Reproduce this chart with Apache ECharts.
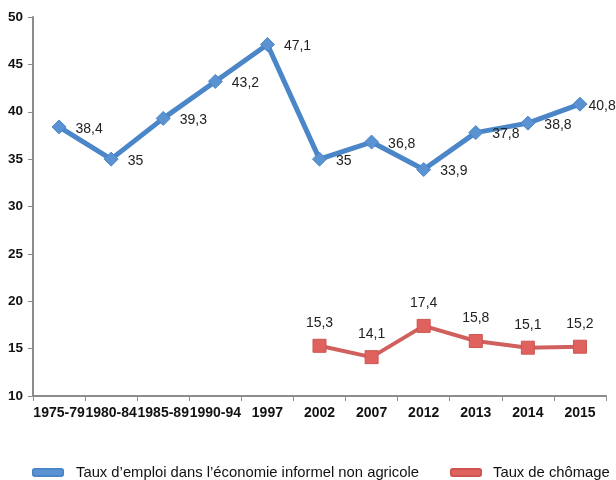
<!DOCTYPE html>
<html>
<head>
<meta charset="utf-8">
<script src="https://cdn.jsdelivr.net/npm/echarts@6/dist/echarts.min.js"></script>
<style>html,body{margin:0;padding:0;background:#fff;}#c{width:616px;height:480px;}</style>
</head>
<body>
<div id="c"></div>
<script>
const categories = ['1975-79','1980-84','1985-89','1990-94','1997','2002','2007','2012','2013','2014','2015'];
const emploiInformel = [38.4, 35, 39.3, 43.2, 47.1, 35, 36.8, 33.9, 37.8, 38.8, 40.8];
const chomage = [null, null, null, null, null, 15.3, 14.1, 17.4, 15.8, 15.1, 15.2];
const seriesNames = ['Taux d\u2019emploi dans l\u2019\u00e9conomie informel non agricole', 'Taux de ch\u00f4mage'];

const fmt = p => String(p.value).replace('.', ',');
const font = 'Liberation Sans, Arial, Helvetica, sans-serif';
const lastIdx = emploiInformel.length - 1;
const blueData = emploiInformel.map((v, i) => i === lastIdx ? {value: v, label: {distance: 1}} : v);
const chart = echarts.init(document.getElementById('c'), null, {renderer: 'canvas'});
const legendText = {fontSize: 14.8, color: '#111', fontFamily: font, padding: [0, 0, 0, 8]};
chart.setOption({
  animation: false,
  textStyle: {fontFamily: font},
  grid: {left: 33, right: 10, top: 17, bottom: 84, containLabel: false},
  legend: [
    {data: [seriesNames[0]], left: 32, top: 465, padding: 0, itemWidth: 30, itemHeight: 7, icon: 'roundRect',
     textStyle: legendText},
    {data: [seriesNames[1]], left: 450, top: 465, padding: 0, itemWidth: 30, itemHeight: 7, icon: 'roundRect',
     textStyle: {fontSize: 14.8, color: '#111', fontFamily: font, padding: [0, 0, 0, 7]}}
  ],
  xAxis: {
    type: 'category', data: categories,
    axisLine: {lineStyle: {color: '#8c8c8c', width: 2}},
    axisTick: {show: true, length: 5, lineStyle: {color: '#8c8c8c'}},
    axisLabel: {interval: 0, fontSize: 14, fontWeight: 'bold', color: '#111', margin: 10, fontFamily: font}
  },
  yAxis: {
    type: 'value', min: 10, max: 50, interval: 5,
    splitLine: {show: false},
    axisLine: {show: true, lineStyle: {color: '#8c8c8c', width: 2}},
    axisTick: {show: true, length: 5, lineStyle: {color: '#8c8c8c'}},
    axisLabel: {fontSize: 13.5, fontWeight: 'bold', color: '#111', margin: 10, fontFamily: font}
  },
  series: [
    {
      name: seriesNames[0], type: 'line', data: blueData,
      symbol: 'diamond', symbolSize: 14,
      lineStyle: {color: '#4a86c8', width: 5},
      itemStyle: {color: '#5b93d2', borderColor: '#4a86c8', borderWidth: 1},
      label: {show: true, position: 'right', distance: 9, offset: [0, 2], fontSize: 14, color: '#222', formatter: fmt, fontFamily: font}
    },
    {
      name: seriesNames[1], type: 'line', data: chomage,
      symbol: 'rect', symbolSize: 13,
      lineStyle: {color: '#d0605e', width: 4},
      itemStyle: {color: '#e0625f', borderColor: '#cc5552', borderWidth: 1},
      label: {show: true, position: 'top', distance: 9, fontSize: 14, color: '#222', formatter: fmt, fontFamily: font}
    }
  ]
});
</script>
</body>
</html>
